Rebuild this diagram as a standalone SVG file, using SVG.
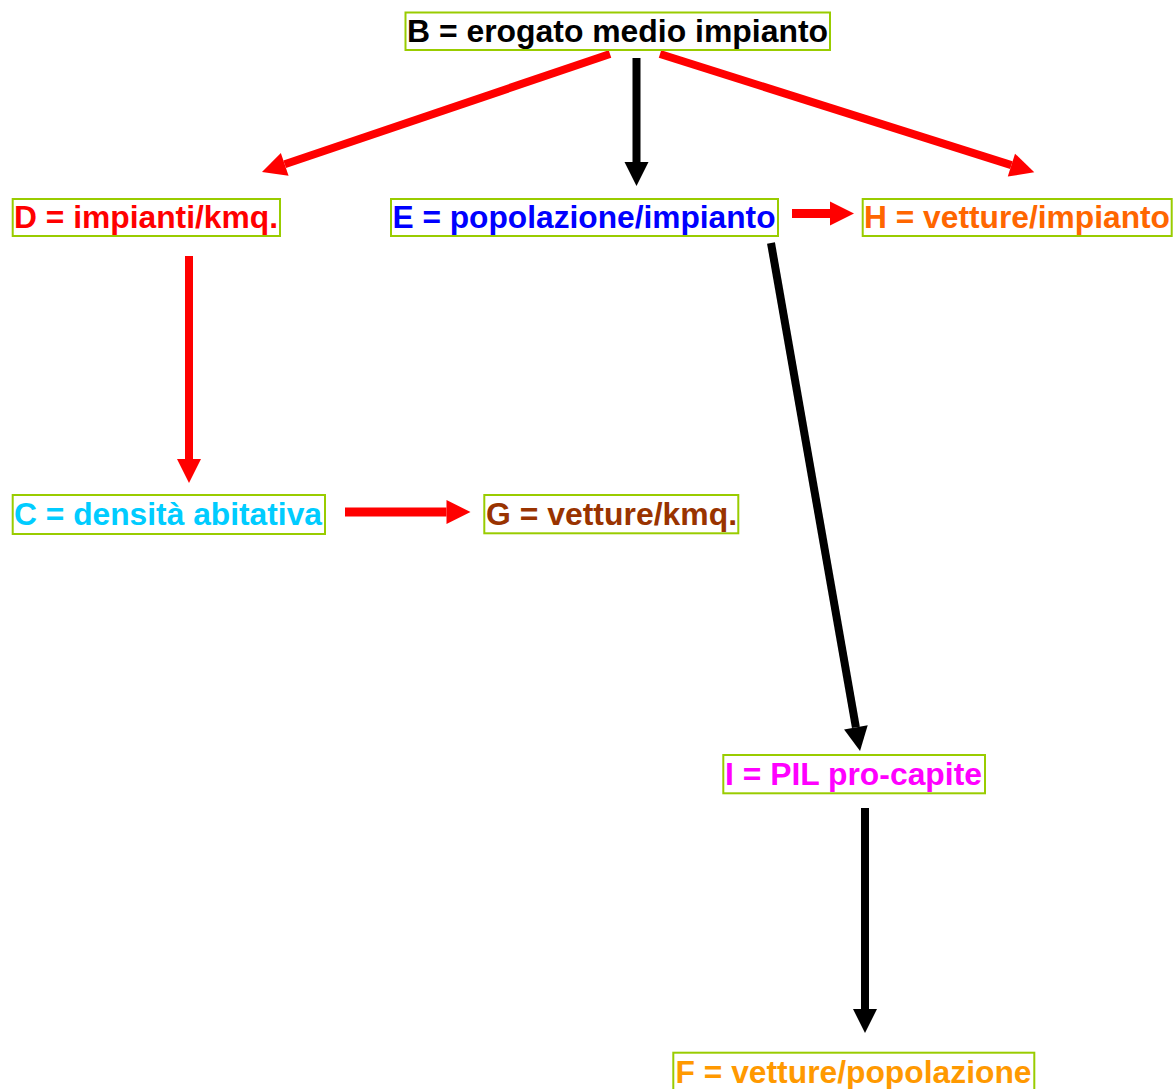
<svg xmlns="http://www.w3.org/2000/svg" width="1173" height="1089" viewBox="0 0 1173 1089">
<style>
.box{fill:#ffffff;stroke:#99cc00;stroke-width:2}
.t{font-family:"Liberation Sans",Arial,sans-serif;font-weight:bold;font-size:31px}
.red{stroke:#ff0000;stroke-width:8;fill:none}
.blk{stroke:#000000;stroke-width:8;fill:none}
</style>
<defs>
<marker id="hr" markerUnits="userSpaceOnUse" markerWidth="24" markerHeight="24" refX="0" refY="12" orient="auto" overflow="visible">
<path d="M0,0 L24,12 L0,24 z" fill="#ff0000"/>
</marker>
<marker id="hb" markerUnits="userSpaceOnUse" markerWidth="24" markerHeight="24" refX="0" refY="12" orient="auto" overflow="visible">
<path d="M0,0 L24,12 L0,24 z" fill="#000000"/>
</marker>
</defs>
<rect width="1173" height="1089" fill="#ffffff"/>
<g id="connectors">
<line class="red" x1="610" y1="54" x2="284.7" y2="164.3" marker-end="url(#hr)"/>
<line class="blk" x1="636.5" y1="58" x2="636.5" y2="162" marker-end="url(#hb)"/>
<line class="red" x1="660" y1="54" x2="1011.4" y2="165.1" marker-end="url(#hr)"/>
<line class="red" x1="792" y1="213.5" x2="830" y2="213.5" marker-end="url(#hr)" style="stroke-width:9"/>
<line class="red" x1="189" y1="256" x2="189" y2="459" marker-end="url(#hr)"/>
<line class="red" x1="345" y1="512" x2="446.5" y2="512" marker-end="url(#hr)" style="stroke-width:9"/>
<line class="blk" x1="771" y1="243" x2="855.9" y2="727.4" marker-end="url(#hb)"/>
<line class="blk" x1="865" y1="808" x2="865" y2="1009" marker-end="url(#hb)"/>
</g>
<g id="nodeB"><rect class="box" x="405.5" y="12.5" width="424.5" height="37.5"/><text class="t" x="407" y="42" textLength="421" lengthAdjust="spacingAndGlyphs" fill="#000000">B = erogato medio impianto</text></g>
<g id="nodeD"><rect class="box" x="12.7" y="199" width="267.3" height="37"/><text class="t" x="14" y="228" textLength="264" lengthAdjust="spacingAndGlyphs" fill="#ff0000">D = impianti/kmq.</text></g>
<g id="nodeE"><rect class="box" x="391" y="199" width="387" height="37"/><text class="t" x="392.5" y="228" textLength="383" lengthAdjust="spacingAndGlyphs" fill="#0000ff">E = popolazione/impianto</text></g>
<g id="nodeH"><rect class="box" x="862.7" y="199" width="309" height="37"/><text class="t" x="864" y="228" textLength="306" lengthAdjust="spacingAndGlyphs" fill="#ff6600">H = vetture/impianto</text></g>
<g id="nodeC"><rect class="box" x="12.7" y="495" width="312.3" height="39"/><text class="t" x="14" y="525" textLength="308" lengthAdjust="spacingAndGlyphs" fill="#00ccff">C = densità abitativa</text></g>
<g id="nodeG"><rect class="box" x="484.3" y="495" width="254" height="38.3"/><text class="t" x="486" y="525" textLength="251" lengthAdjust="spacingAndGlyphs" fill="#993300">G = vetture/kmq.</text></g>
<g id="nodeI"><rect class="box" x="723.3" y="755" width="261.7" height="38.3"/><text class="t" x="725" y="785" textLength="257" lengthAdjust="spacingAndGlyphs" fill="#ff00ff">I = PIL pro-capite</text></g>
<g id="nodeF"><rect class="box" x="673.3" y="1052.7" width="361" height="40"/><text class="t" x="675.5" y="1082.5" textLength="356" lengthAdjust="spacingAndGlyphs" fill="#ff9900">F = vetture/popolazione</text></g>
</svg>
